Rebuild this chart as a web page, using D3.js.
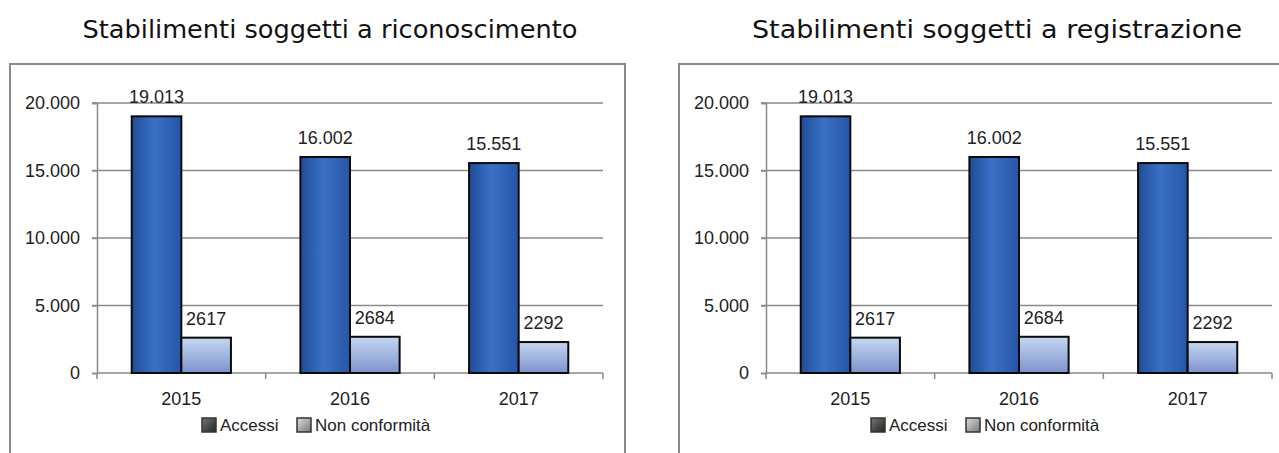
<!DOCTYPE html>
<html>
<head>
<meta charset="utf-8">
<script src="https://cdn.jsdelivr.net/npm/d3@7"></script>
<style>
  body { margin: 0; background: #fff; }
  svg { display: block; }
</style>
</head>
<body>
<div id="container"></div>
<script>
// data
var categories = ["2015", "2016", "2017"];
var seriesNames = ["Accessi", "Non conformità"];
var accessi = [19013, 16002, 15551];
var nonConformita = [2617, 2684, 2292];
var yTicks = [0, 5000, 10000, 15000, 20000];
var titles = ["Stabilimenti soggetti a riconoscimento", "Stabilimenti soggetti a registrazione"];

var it = d3.formatLocale({decimal: ",", thousands: ".", grouping: [3], currency: ["€", ""]});
var fmtThousands = it.format(",d");
var labelFont = "Liberation Sans";

var svg = d3.select("#container")
  .append("svg")
    .attr("width", 1279)
    .attr("height", 453);

// gradients for the bars
var defs = svg.append("defs");
var gA = defs.append("linearGradient").attr("id", "gradAccessi")
  .attr("x1", "0%").attr("x2", "100%").attr("y1", "0%").attr("y2", "0%");
gA.append("stop").attr("offset", "0%").attr("stop-color", "#1f4c98");
gA.append("stop").attr("offset", "45%").attr("stop-color", "#3a70c4");
gA.append("stop").attr("offset", "100%").attr("stop-color", "#2855a6");
var gN = defs.append("linearGradient").attr("id", "gradNon")
  .attr("x1", "0%").attr("x2", "0%").attr("y1", "0%").attr("y2", "100%");
gN.append("stop").attr("offset", "0%").attr("stop-color", "#c6d7f0");
gN.append("stop").attr("offset", "100%").attr("stop-color", "#7c93cc");
var gL1 = defs.append("linearGradient").attr("id", "gradLeg1")
  .attr("x1", "0%").attr("x2", "100%").attr("y1", "0%").attr("y2", "100%");
gL1.append("stop").attr("offset", "0%").attr("stop-color", "#777");
gL1.append("stop").attr("offset", "100%").attr("stop-color", "#222");
var gL2 = defs.append("linearGradient").attr("id", "gradLeg2")
  .attr("x1", "0%").attr("x2", "100%").attr("y1", "0%").attr("y2", "100%");
gL2.append("stop").attr("offset", "0%").attr("stop-color", "#ddd");
gL2.append("stop").attr("offset", "100%").attr("stop-color", "#777");

function drawChart(offsetX, title, titleX, titleWidth){
  var g = svg.append("g").attr("transform", "translate(" + offsetX + ",0)");

  // title
  g.append("text")
    .attr("x", titleX)
    .attr("y", 38)
    .attr("text-anchor", "middle")
    .attr("font-family", "DejaVu Sans")
    .attr("font-size", 24)
    .attr("textLength", titleWidth)
    .attr("lengthAdjust", "spacingAndGlyphs")
    .attr("fill", "#111")
    .text(title);

  // frame
  g.append("rect")
    .attr("x", 10).attr("y", 64)
    .attr("width", 615).attr("height", 400)
    .attr("fill", "none")
    .attr("stroke", "#8a8a8a")
    .attr("stroke-width", 2);

  var x0 = d3.scaleBand().domain(categories).range([97, 603]);
  var x1 = d3.scaleBand().domain(seriesNames).range([0, x0.bandwidth()]).paddingOuter(0.7);
  var y = d3.scaleLinear().domain([0, 20000]).range([373, 103]);

  // gridlines
  g.append("g").selectAll("line")
    .data(yTicks.filter(function(d){ return d > 0; }))
    .enter().append("line")
      .attr("x1", 92).attr("x2", 603)
      .attr("y1", function(d){ return y(d); })
      .attr("y2", function(d){ return y(d); })
      .attr("stroke", "#8a8a8a")
      .attr("stroke-width", 1.5);

  // Y axis
  var yAxis = g.append("g")
    .attr("transform", "translate(97,0)")
    .call(d3.axisLeft(y).tickValues(yTicks).tickSize(5).tickPadding(12)
      .tickFormat(function(d){ return fmtThousands(d); }));
  yAxis.select(".domain").attr("stroke", "#8a8a8a").attr("stroke-width", 1.5);
  yAxis.selectAll(".tick line").attr("stroke", "#8a8a8a").attr("stroke-width", 1.5);
  yAxis.selectAll("text")
    .attr("font-family", labelFont)
    .attr("font-size", 18)
    .attr("fill", "#222");

  // X axis line and ticks at category boundaries
  g.append("line")
    .attr("x1", 97).attr("x2", 603)
    .attr("y1", y(0)).attr("y2", y(0))
    .attr("stroke", "#8a8a8a").attr("stroke-width", 1.5);
  g.append("g").selectAll("line")
    .data(categories.concat(["end"]))
    .enter().append("line")
      .attr("x1", function(d, i){ return 97 + i * x0.step(); })
      .attr("x2", function(d, i){ return 97 + i * x0.step(); })
      .attr("y1", y(0)).attr("y2", y(0) + 6)
      .attr("stroke", "#8a8a8a").attr("stroke-width", 1.5);
  g.append("g").selectAll("text")
    .data(categories)
    .enter().append("text")
      .attr("x", function(d){ return x0(d) + x0.bandwidth() / 2; })
      .attr("y", 405)
      .attr("text-anchor", "middle")
      .attr("font-family", labelFont)
      .attr("font-size", 18)
      .attr("fill", "#222")
      .text(function(d){ return d; });

  // bars
  var rows = categories.map(function(c, i){
    return [
      {cat: c, s: seriesNames[0], v: accessi[i], label: fmtThousands(accessi[i]), fill: "url(#gradAccessi)"},
      {cat: c, s: seriesNames[1], v: nonConformita[i], label: String(nonConformita[i]), fill: "url(#gradNon)"}
    ];
  });
  var bars = g.append("g").selectAll("g")
    .data(rows)
    .enter().append("g")
      .attr("transform", function(d){ return "translate(" + x0(d[0].cat) + ",0)"; });
  bars.selectAll("rect")
    .data(function(d){ return d; })
    .enter().append("rect")
      .attr("x", function(d){ return x1(d.s); })
      .attr("width", x1.bandwidth())
      .attr("y", function(d){ return y(d.v); })
      .attr("height", function(d){ return y(0) - y(d.v); })
      .attr("fill", function(d){ return d.fill; })
      .attr("stroke", "#0a0a0a")
      .attr("stroke-width", 2);
  bars.selectAll("text")
    .data(function(d){ return d; })
    .enter().append("text")
      .attr("x", function(d){ return x1(d.s) + x1.bandwidth() / 2; })
      .attr("y", function(d){ return y(d.v) - 13; })
      .attr("text-anchor", "middle")
      .attr("font-family", labelFont)
      .attr("font-size", 18)
      .attr("fill", "#222")
      .text(function(d){ return d.label; });

  // legend
  var legX = [202, 297];
  var legFill = ["url(#gradLeg1)", "url(#gradLeg2)"];
  seriesNames.forEach(function(name, i){
    g.append("rect")
      .attr("x", legX[i]).attr("y", 418)
      .attr("width", 14).attr("height", 14)
      .attr("fill", legFill[i])
      .attr("stroke", "#333").attr("stroke-width", 1.5);
    g.append("text")
      .attr("x", legX[i] + 18).attr("y", 431)
      .attr("font-family", labelFont)
      .attr("font-size", 17)
      .attr("fill", "#222")
      .text(name);
  });
}

drawChart(0, titles[0], 330, 495);
drawChart(669, titles[1], 328, 490);
</script>
</body>
</html>
